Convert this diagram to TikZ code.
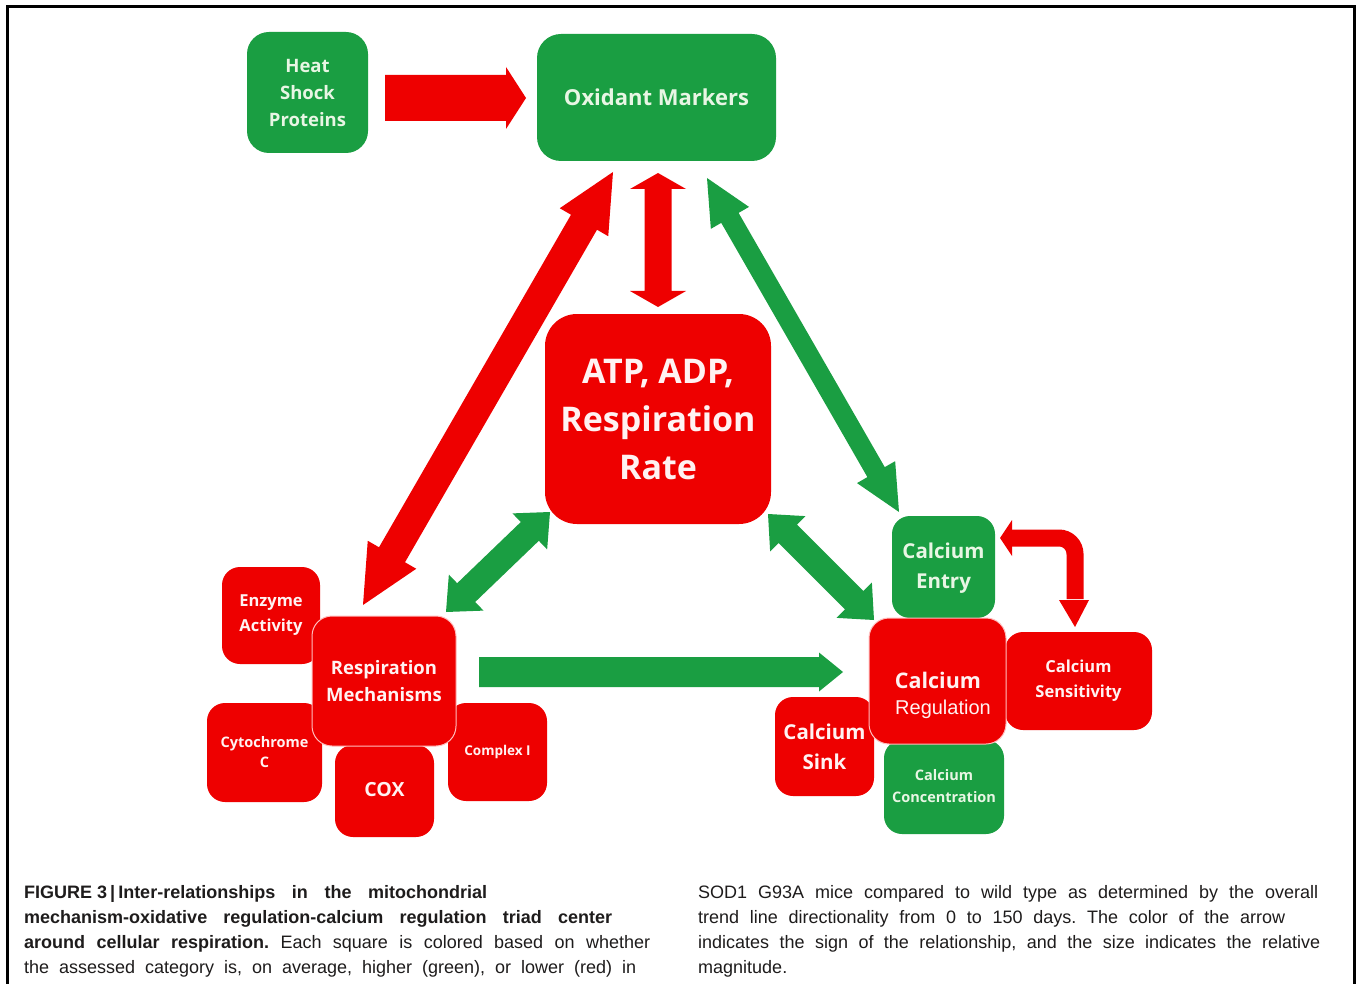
\documentclass[tikz,border=0pt]{standalone}
\usepackage{fontspec}
\setmainfont{Open Sans}
\newfontfamily\capfont{Liberation Sans}
\newfontfamily\arialfont{Liberation Sans}
\usetikzlibrary{calc}
\definecolor{gbox}{RGB}{26,158,66}
\definecolor{rbox}{RGB}{238,0,0}
\definecolor{gtext}{RGB}{232,246,228}
\definecolor{rtext}{RGB}{255,242,242}
\definecolor{captext}{RGB}{30,28,28}
\newcommand\fs[2]{\fontsize{#1pt}{#2pt}\selectfont\bfseries}
\newcommand\shifted[2]{\raisebox{#1}{\begin{tabular}{@{}c@{}}#2\end{tabular}}}
% double-headed block arrow: colour, end A, end B, shaft half width, head half width, head length
\newcommand\dblarrow[6]{%
  \coordinate (pa) at ($(#2)!#6!(#3)$);
  \coordinate (pb) at ($(#3)!#6!(#2)$);
  \fill[#1] (#2) -- ($(pa)!#5!90:(#3)$) -- ($(pa)!#4!90:(#3)$)
    -- ($(pb)!#4!-90:(#2)$) -- ($(pb)!#5!-90:(#2)$) -- (#3)
    -- ($(pb)!#5!90:(#2)$) -- ($(pb)!#4!90:(#2)$)
    -- ($(pa)!#4!-90:(#3)$) -- ($(pa)!#5!-90:(#3)$) -- cycle;}
% single-headed block arrow: colour, tail, tip, shaft half width, head half width, head length
\newcommand\sglarrow[6]{%
  \coordinate (pb) at ($(#3)!#6!(#2)$);
  \fill[#1] ($(#2)!#4!90:(#3)$) -- ($(pb)!#4!-90:(#2)$) -- ($(pb)!#5!-90:(#2)$)
    -- (#3) -- ($(pb)!#5!90:(#2)$) -- ($(pb)!#4!90:(#2)$)
    -- ($(#2)!#4!-90:(#3)$) -- cycle;}
\tikzset{
  gb/.style={fill=gbox, text=gtext, rounded corners=#1, align=center, inner sep=0pt},
  gb/.default=20pt,
  rb/.style={fill=rbox, text=rtext, rounded corners=#1, align=center, inner sep=0pt},
  rb/.default=18pt,
  captxt/.style={font=\capfont\fontsize{18pt}{25pt}\selectfont\frenchspacing, text=captext, inner sep=0pt, anchor=base west},
}
\begin{document}
\begin{tikzpicture}[x=1pt,y=-1pt]
\fill[white] (0,0) rectangle (1357,984);
\useasboundingbox (0,0) rectangle (1357,984);
\draw[line width=3pt] (7,984) -- (7,7) -- (1354.5,7) -- (1354.5,984);

% ---------- boxes ----------
\node[gb=22pt, minimum width=121pt, minimum height=121pt, font=\fs{18.5}{27}] (hsp) at (307.5,92.5) {Heat\\Shock\\Proteins};
\node[gb=24pt, minimum width=239pt, minimum height=127pt, font=\fs{22}{28}] (oxi) at (656.5,97.5) {Oxidant Markers};
\node[rb=32pt, minimum width=226pt, minimum height=210pt, font=\fs{34}{48}] (atp) at (658,419) {ATP, ADP,\\Respiration\\Rate};

\node[rb, minimum width=98pt, minimum height=97pt, font=\fs{16.5}{25}] (enz) at (271,615.5) {Enzyme\\Activity};
\node[rb, minimum width=115pt, minimum height=99pt, font=\fs{14.5}{20}] (cyt) at (264.5,752.5) {Cytochrome\\C};
\node[rb, minimum width=99pt, minimum height=92pt, font=\fs{19.5}{24}] (cox) at (384.5,791) {\raisebox{3pt}{COX}};
\node[rb, minimum width=99pt, minimum height=98pt, font=\fs{13.5}{18}] (cpx) at (497.5,752) {Complex I};
\node[rb=20pt, draw={rgb,255:red,255;green,190;blue,190}, line width=1pt, minimum width=144pt, minimum height=130pt, font=\fs{18.5}{27}] (resp) at (384,681) {Respiration\\Mechanisms};

\node[gb=18pt, minimum width=103pt, minimum height=102pt, font=\fs{20.5}{30}] (cent) at (943.5,567) {\shifted{-5pt}{Calcium\\Entry}};
\node[rb, minimum width=147pt, minimum height=98pt, font=\fs{16.5}{25}] (csens) at (1078.5,681) {Calcium\\Sensitivity};
\node[rb, minimum width=99pt, minimum height=99pt, font=\fs{20.5}{30}] (csink) at (824.5,746.5) {Calcium\\Sink};
\node[gb=18pt, minimum width=120pt, minimum height=94pt, font=\fs{14.5}{22}] (cconc) at (944,787) {\shifted{4pt}{Calcium\\Concentration}};
\node[rb=20pt, draw={rgb,255:red,255;green,190;blue,190}, line width=1pt, minimum width=137pt, minimum height=126pt] (creg) at (937.5,681) {};
\node[text=rtext, align=center, inner sep=0pt, font=\fs{21.5}{26}] (cregtext) at (943,695) {\hspace*{-10pt}Calcium\\{\arialfont\mdseries\fontsize{20pt}{26pt}\selectfont Regulation}};

% ---------- arrow end points ----------
\coordinate (a1s) at (385,98);   \coordinate (a1e) at (526,98);
\coordinate (a2s) at (658,173);  \coordinate (a2e) at (658,307);
\coordinate (a3s) at (363,605);  \coordinate (a3e) at (613,172);
\coordinate (a4s) at (707,178);  \coordinate (a4e) at (899,512);
\coordinate (a5s) at (446,612);  \coordinate (a5e) at (550,512);
\coordinate (a6s) at (768,514);  \coordinate (a6e) at (874,620);
\coordinate (a7s) at (479,672);  \coordinate (a7e) at (843,672);

% ---------- arrows ----------
\sglarrow{rbox}{a1s}{a1e}{23pt}{31pt}{20pt}
\dblarrow{rbox}{a2s}{a2e}{13.5pt}{28pt}{16pt}
\dblarrow{rbox}{a3s}{a3e}{15pt}{28pt}{58pt}
\dblarrow{gbox}{a4s}{a4e}{10pt}{22pt}{46pt}
\dblarrow{gbox}{a5s}{a5e}{13pt}{25pt}{28pt}
\dblarrow{gbox}{a6s}{a6e}{13pt}{25pt}{28pt}
\sglarrow{gbox}{a7s}{a7e}{15pt}{19.5pt}{24pt}

% elbow arrow Calcium Entry <-> Calcium Sensitivity
\coordinate (e1) at (1000,538);
\coordinate (e1b) at (1012,538);
\coordinate (ec) at (1075,538);
\coordinate (e2b) at (1075,600);
\coordinate (e2) at (1075,627);
\draw[rbox, line width=17pt, rounded corners=16pt] ($(e1b)+(-1,0)$) -- (ec) -- ($(e2b)+(0,-1)$);
\fill[rbox] (e1) -- ($(e1b)+(0,-18)$) -- ($(e1b)+(0,18)$) -- cycle;
\fill[rbox] (e2) -- ($(e2b)+(-16,0)$) -- ($(e2b)+(14,0)$) -- cycle;

% ---------- caption ----------
\node[captxt] (c1) at (24,898) {\makebox[463pt][s]{\bfseries FIGURE\kern5pt3\,|\,Inter-relationships in the mitochondrial}};
\node[captxt] (c2) at (24,923) {\makebox[588pt][s]{\bfseries mechanism-oxidative regulation-calcium regulation triad center}};
\node[captxt] (c3) at (24,948) {\makebox[626pt][s]{\bfseries around cellular respiration.\mdseries\ Each square is colored based on whether}};
\node[captxt] (c4) at (24,973) {\makebox[612pt][s]{the assessed category is, on average, higher (green), or lower (red) in}};
\node[captxt] (d1) at (698,898) {\makebox[620pt][s]{SOD1 G93A mice compared to wild type as determined by the overall}};
\node[captxt] (d2) at (698,923) {\makebox[587pt][s]{trend line directionality from 0 to 150 days. The color of the arrow}};
\node[captxt] (d3) at (698,948) {\makebox[622pt][s]{indicates the sign of the relationship, and the size indicates the relative}};
\node[captxt] (d4) at (698,973) {magnitude.};
\end{tikzpicture}
\end{document}
